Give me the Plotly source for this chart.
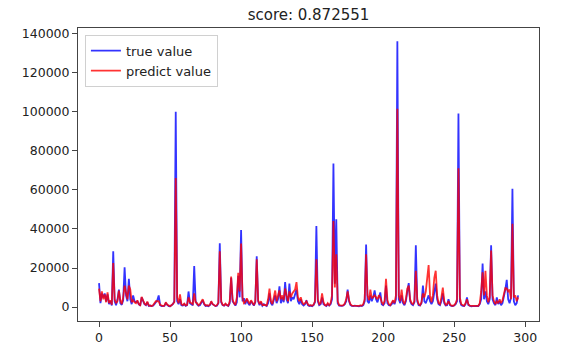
import plotly.graph_objects as go

title_text = "score: 0.872551"
series_names = ["true value", "predict value"]

true_value = [
    12300, 2000, 7000, 5000, 7000, 3000, 6500, 1500, 3000, 800,
    28600, 3000, 1000, 4000, 9000, 2000, 1200, 3500, 20400, 6000,
    3000, 14500, 4000, 1500, 6000, 3000, 2500, 3000, 1500, 800,
    5000, 3000, 1500, 1000, 2500, 600, 800, 500, 700, 1500,
    2500, 3500, 6000, 1000, 500, 400, 600, 2000, 1000, 500,
    400, 800, 1500, 3000, 100000, 3000, 1500, 4000, 1000, 800,
    1500, 600, 1000, 8000, 2000, 1500, 1000, 21000, 3000, 1500,
    700, 1000, 2000, 3500, 1500, 600, 800, 500, 1000, 2500,
    1500, 800, 500, 700, 2000, 32700, 2500, 1000, 700, 1500,
    800, 600, 2000, 15000, 3000, 1500, 800, 2500, 16000, 5000,
    39500, 3000, 4500, 1500, 4000, 2000, 1000, 3000, 1500, 800,
    2500, 26000, 3000, 1000, 2500, 700, 1500, 800, 600, 2000,
    7000, 2000, 1000, 3500, 6000, 2000, 4000, 10600, 2000, 5000,
    2500, 12800, 4000, 2000, 12000, 3000, 5000, 4000, 6000, 9000,
    3000, 1500, 4000, 1500, 800, 1500, 3500, 1000, 600, 800,
    500, 1000, 2500, 41500, 3000, 1000, 1500, 5000, 1500, 800,
    600, 1500, 800, 1500, 4000, 73500, 12000, 45000, 2000, 800,
    500, 600, 800, 1500, 3000, 9000, 3000, 1000, 600, 500,
    800, 600, 500, 400, 700, 500, 1000, 3000, 32000, 3000,
    2000, 6000, 3000, 5000, 8500, 4000, 2500, 5000, 7500, 1500,
    1000, 2000, 11000, 2000, 1000, 800, 1500, 3000, 1500, 4000,
    136000, 4000, 2000, 6000, 2000, 1000, 3000, 8000, 12300, 3000,
    1500, 1000, 2500, 31600, 3000, 1000, 800, 2000, 11000, 3000,
    2000, 4000, 6000, 3000, 1500, 3000, 8000, 12000, 4000, 1500,
    1000, 3000, 7000, 2000, 800, 1000, 4000, 1000, 600, 500,
    800, 1500, 3000, 99000, 3000, 1000, 600, 500, 1500, 5000,
    1000, 500, 400, 500, 400, 500, 600, 500, 1500, 4000,
    22300, 4000, 8000, 3000, 1500, 4000, 31600, 4000, 2000, 1000,
    5000, 1500, 3000, 1000, 2000, 5000, 9000, 14000, 4000, 2000,
    5000, 60500, 3000, 1000, 2000, 6000,
]

predict_value = [
    9500, 3000, 8000, 4000, 6500, 2500, 7500, 2000, 3500, 1200,
    22500, 4000, 2000, 3000, 8500, 3500, 1500, 5000, 11000, 8000,
    4000, 11000, 9000, 2500, 3500, 2500, 2000, 3500, 1500, 1000,
    5200, 3500, 1800, 1200, 2800, 900, 700, 600, 900, 2000,
    3000, 3000, 3000, 1200, 700, 500, 800, 2500, 1200, 700,
    500, 900, 1800, 2500, 66000, 5000, 2000, 6500, 1500, 1000,
    1800, 900, 1200, 5000, 2500, 2000, 1500, 7000, 2500, 2000,
    1000, 1500, 2500, 4000, 1800, 800, 1000, 700, 1200, 3000,
    1500, 900, 600, 1000, 2200, 28600, 3000, 1200, 900, 1800,
    1000, 800, 3000, 15600, 4000, 2000, 1200, 5000, 17500, 8000,
    32500, 5000, 2000, 2500, 4500, 3000, 1500, 3500, 1800, 1000,
    3000, 24500, 3500, 1500, 3000, 1000, 1200, 1000, 900, 4000,
    9500, 3000, 1500, 5000, 8500, 3000, 6000, 8500, 4000, 6000,
    3500, 9500, 6000, 3000, 8000, 5000, 7000, 8000, 9000, 12800,
    5000, 3000, 5000, 2500, 1500, 2000, 3000, 1500, 800, 1000,
    700, 1200, 3000, 24500, 4000, 1500, 2000, 7000, 2500, 1000,
    800, 2000, 1000, 2000, 6000, 44000, 10000, 27000, 3000, 1000,
    700, 800, 1000, 1800, 4000, 8000, 3500, 1500, 800, 700,
    900, 800, 700, 600, 900, 800, 1500, 4000, 27000, 6000,
    3500, 9000, 4500, 5500, 6000, 5000, 4000, 6000, 5000, 2500,
    1500, 3000, 14500, 3500, 1500, 1000, 2000, 3500, 2000, 6000,
    101500, 6000, 3000, 9000, 3000, 1500, 4000, 9500, 11000, 4000,
    2000, 1500, 3000, 18600, 4000, 1500, 1000, 2500, 7000, 5000,
    8000, 14000, 21500, 6000, 2500, 6000, 15000, 18600, 6000, 2000,
    1500, 5000, 10000, 3000, 1200, 1500, 3000, 1500, 800, 700,
    1000, 2000, 4000, 71000, 5000, 1500, 900, 700, 2000, 4000,
    1500, 700, 600, 600, 600, 700, 800, 700, 2000, 8000,
    17800, 6000, 18600, 6000, 2500, 5000, 29000, 6000, 3000, 1500,
    3000, 2000, 4000, 2000, 3500, 6000, 9700, 9500, 8000, 9000,
    4000, 42700, 5000, 6000, 3000, 5000,
]

x_index = list(range(len(true_value)))
y_ticks = [0, 20000, 40000, 60000, 80000, 100000, 120000, 140000]
x_ticks = [0, 50, 100, 150, 200, 250, 300]

fig = go.Figure()
fig.add_trace(go.Scatter(x=x_index, y=true_value, mode="lines", name=series_names[0],
                         line=dict(color="rgba(0,0,255,0.8)", width=1.8)))
fig.add_trace(go.Scatter(x=x_index, y=predict_value, mode="lines", name=series_names[1],
                         line=dict(color="rgba(255,0,0,0.8)", width=1.8)))

axis_common = dict(showline=True, linecolor="#444", linewidth=1, mirror=True,
                   ticks="outside", ticklen=5, tickwidth=1, tickcolor="#444",
                   showgrid=False, zeroline=False,
                   tickfont=dict(family="DejaVu Sans", size=12.5, color="#222"))

fig.update_layout(
    width=575, height=357,
    margin=dict(l=78, r=36, t=28, b=28),
    paper_bgcolor="white", plot_bgcolor="white",
    title=dict(text=title_text, x=0.5, xref="paper", xanchor="center",
               y=1 - 15 / 357, yref="container", yanchor="middle",
               font=dict(family="DejaVu Sans", size=15, color="#222")),
    xaxis=dict(range=[-14.8, 309.7], tickvals=x_ticks, **axis_common),
    yaxis=dict(range=[-7100, 142800], tickvals=y_ticks, tickformat="d", **axis_common),
    legend=dict(x=0.015, y=0.977, xanchor="left", yanchor="top",
                bgcolor="rgba(255,255,255,0.8)", bordercolor="#d0d0d0", borderwidth=1,
                font=dict(family="DejaVu Sans", size=13, color="#222"),
                tracegroupgap=0, itemwidth=30),
    showlegend=True,
)

fig.write_html("out.html", config={"displayModeBar": False},
               post_script="document.body.style.margin='0';document.body.style.padding='0';")
